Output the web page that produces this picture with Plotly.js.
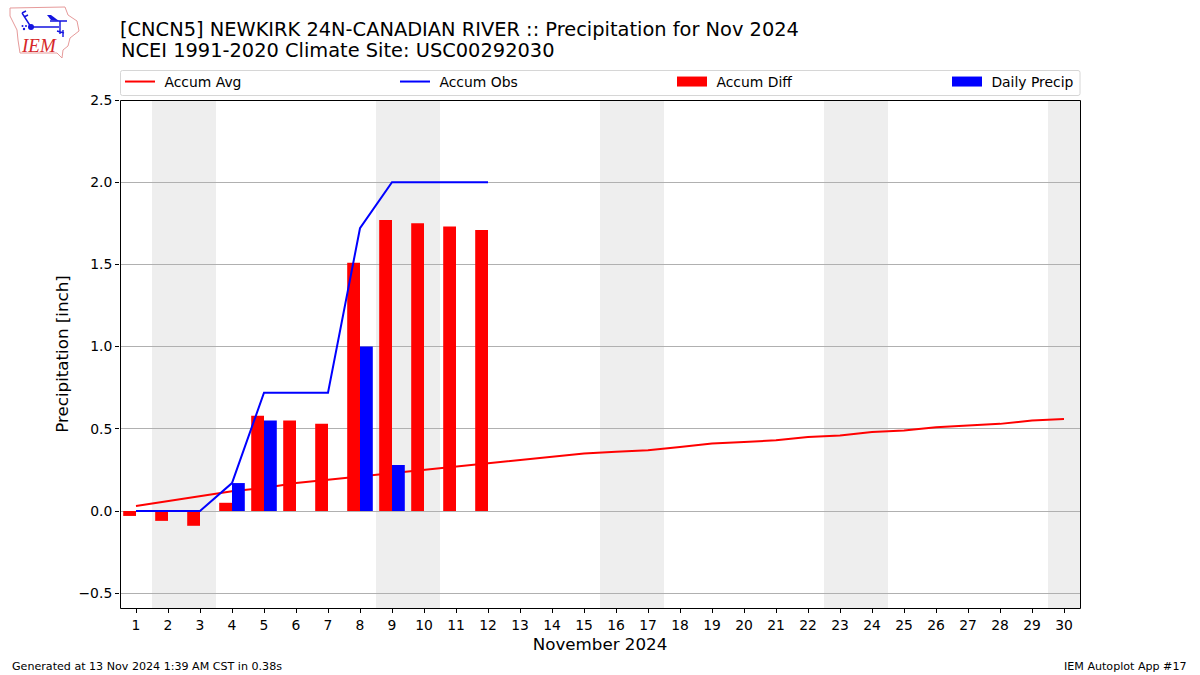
<!DOCTYPE html>
<html>
<head>
<meta charset="utf-8">
<script src="https://cdn.plot.ly/plotly-3.0.1.min.js"></script>
<style>
html, body { margin: 0; padding: 0; background: #fff; }
#plot { width: 1200px; height: 675px; }
</style>
</head>
<body>
<div id="plot"></div>
<script>
var days = [1,2,3,4,5,6,7,8,9,10,11,12,13,14,15,16,17,18,19,20,21,22,23,24,25,26,27,28,29,30];
var accumAvg = [0.03,0.06,0.09,0.12,0.14,0.17,0.19,0.21,0.23,0.25,0.27,0.29,0.31,0.33,0.35,0.36,0.37,0.39,0.41,0.42,0.43,0.45,0.46,0.48,0.49,0.51,0.52,0.53,0.55,0.56];
var obsDays = [1,2,3,4,5,6,7,8,9,10,11,12];
var accumObs = [0,0,0,0.17,0.72,0.72,0.72,1.72,2.0,2.0,2.0,2.0];
var accumDiff = [-0.03,-0.06,-0.09,0.05,0.58,0.55,0.53,1.51,1.77,1.75,1.73,1.71];
var dailyPrecip = [0,0,0,0.17,0.55,0,0,1.0,0.28,0,0,0];
var weekends = [[1.5,3.5],[8.5,10.5],[15.5,17.5],[22.5,24.5],[29.5,30.5]];

var fontName = '"DejaVu Sans", sans-serif';
var xRange = [0.5, 30.5];
var yRange = [-0.59, 2.5];

// pixel helpers for the things placed outside the plot area
function paperX(px) { return (px - 120) / 960; }
function paperY(py) { return (608 - py) / 508; }

// bars have to sit over the red line, plotly always puts bars under scatter
// on one subplot, so the bars and blue line go on an overlay pair of axes.
// the two empty line traces only give the wide legend swatches of the bars
var traces = [
    {x: days, y: accumAvg, name: '\u00a0Accum Avg', type: 'scatter', mode: 'lines',
     line: {color: '#ff0000', width: 2}, legend: 'legend'},
    {x: obsDays, y: accumDiff, type: 'bar', width: 0.4, offset: -0.4, showlegend: false,
     marker: {color: '#ff0000', line: {width: 0}}, xaxis: 'x2', yaxis: 'y2'},
    {x: obsDays, y: dailyPrecip, type: 'bar', width: 0.4, offset: 0, showlegend: false,
     marker: {color: '#0000ff', line: {width: 0}}, xaxis: 'x2', yaxis: 'y2'},
    {x: obsDays, y: accumObs, name: '\u00a0Accum Obs', type: 'scatter', mode: 'lines',
     line: {color: '#0000ff', width: 2}, xaxis: 'x2', yaxis: 'y2', legend: 'legend2'},
    {x: [null], y: [null], name: '\u00a0Accum Diff', type: 'scatter', mode: 'lines',
     line: {color: '#ff0000', width: 10}, legend: 'legend3'},
    {x: [null], y: [null], name: '\u00a0Daily Precip', type: 'scatter', mode: 'lines',
     line: {color: '#0000ff', width: 10}, legend: 'legend4'}
];

var shapes = weekends.map(function(w) {
    return {type: 'rect', xref: 'x', yref: 'paper', x0: w[0], x1: w[1], y0: 0, y1: 1,
            fillcolor: '#eeeeee', line: {width: 0}, layer: 'below'};
});

// plot frame, plotly's own axis line lands one pixel too far out
shapes.push({
    type: 'rect', xref: 'paper', yref: 'paper', layer: 'above',
    x0: paperX(120.5), x1: paperX(1080.5), y0: paperY(608.5), y1: paperY(100.5),
    line: {color: '#000', width: 1}
});

// legend frame, rounded like the reference
var lx0 = paperX(120.5), lx1 = paperX(1080), ly0 = paperY(95.5), ly1 = paperY(70.5);
var rx = 2 / 960, ry = 2 / 508;
shapes.push({
    type: 'path', xref: 'paper', yref: 'paper', layer: 'above',
    line: {color: '#d6d6d6', width: 1},
    path: 'M' + (lx0 + rx) + ',' + ly1 + ' L' + (lx1 - rx) + ',' + ly1 +
          ' Q' + lx1 + ',' + ly1 + ' ' + lx1 + ',' + (ly1 - ry) +
          ' L' + lx1 + ',' + (ly0 + ry) +
          ' Q' + lx1 + ',' + ly0 + ' ' + (lx1 - rx) + ',' + ly0 +
          ' L' + (lx0 + rx) + ',' + ly0 +
          ' Q' + lx0 + ',' + ly0 + ' ' + lx0 + ',' + (ly0 + ry) +
          ' L' + lx0 + ',' + (ly1 - ry) +
          ' Q' + lx0 + ',' + ly1 + ' ' + (lx0 + rx) + ',' + ly1 + ' Z'
});

var logoSvg = '<svg xmlns="http://www.w3.org/2000/svg" width="90" height="60" viewBox="0 0 90 60">' +
    '<path d="M10 8 L65 7 L68 15 L77 21 L79 31 L70 38 L68 46 L63 50 L62 58 L57 53 L20 53 L18 40 L17 30 L10 16 Z" fill="#fff" stroke="#e69a9a" stroke-width="1"/>' +
    '<path d="M31 27 L59 27 M50 21 L67 21 M60 21 L60 34 M31 27 L22 13 M22 13 L26 11 M24 17 L28 15 M57 31 L64 33 M63 30 L63 37" fill="none" stroke="#1414e0" stroke-width="1.4"/>' +
    '<path d="M47 15 L51 15 L59 21 L51 20 Z" fill="#1414e0"/>' +
    '<circle cx="31" cy="27" r="3" fill="#1414e0"/>' +
    '<circle cx="24" cy="29" r="1.200" fill="#1414e0"/><circle cx="22.500" cy="26" r="1" fill="#1414e0"/><circle cx="26" cy="26" r="1" fill="#1414e0"/>' +
    '</svg>';

var annotations = [
    {text: 'NCEI 1991-2020 Climate Site: USC00292030', xref: 'paper', yref: 'paper',
     x: 0, y: paperY(51), xanchor: 'left', yanchor: 'middle', showarrow: false, borderpad: 0,
     font: {family: fontName, size: 19.4, color: '#000'}},
    {text: '<i>IEM</i>', xref: 'paper', yref: 'paper', x: paperX(20), y: paperY(45.5),
     xanchor: 'left', yanchor: 'middle', showarrow: false, borderpad: 0,
     font: {family: '"Liberation Serif", serif', size: 19, color: '#d62728'}},
    {text: 'Generated at 13 Nov 2024 1:39 AM CST in 0.38s', xref: 'paper', yref: 'paper',
     x: paperX(11), y: paperY(666.5), xanchor: 'left', yanchor: 'middle',
     showarrow: false, borderpad: 0, font: {family: fontName, size: 11.1, color: '#000'}},
    {text: 'IEM Autoplot App #17', xref: 'paper', yref: 'paper',
     x: paperX(1188), y: paperY(666.5), xanchor: 'right', yanchor: 'middle',
     showarrow: false, borderpad: 0, font: {family: fontName, size: 11.1, color: '#000'}}
];

function legendAt(px) {
    return {
        orientation: 'h', x: paperX(px), xanchor: 'left', y: paperY(82), yanchor: 'middle',
        itemwidth: 30, borderwidth: 0, bgcolor: 'rgba(0,0,0,0)', font: {size: 13.9}
    };
}

var layout = {
    width: 1200,
    height: 675,
    margin: {l: 120, r: 120, t: 100, b: 67, pad: 0},
    paper_bgcolor: '#fff',
    plot_bgcolor: 'rgba(0,0,0,0)',
    font: {family: fontName, size: 14, color: '#000'},
    barmode: 'overlay',
    title: {
        text: '[CNCN5] NEWKIRK 24N-CANADIAN RIVER :: Precipitation for Nov 2024',
        x: 0.1, xanchor: 'left', y: 1 - 29 / 675, yanchor: 'middle', yref: 'container',
        font: {family: fontName, size: 19.4, color: '#000'}
    },
    xaxis: {
        range: xRange, tickmode: 'array', tickvals: days, ticktext: days.map(String),
        ticks: 'outside', ticklen: 4, tickwidth: 1, tickcolor: '#000',
        showline: false,
        showgrid: false, zeroline: false, tickfont: {size: 13.9},
        title: {text: 'November 2024', standoff: 6, font: {size: 16.7}}
    },
    yaxis: {
        range: yRange, tickmode: 'array', tickvals: [-0.5, 0, 0.5, 1, 1.5, 2, 2.5],
        tickformat: '.1f', ticks: 'outside', ticklen: 4, tickwidth: 1, tickcolor: '#000',
        showline: false,
        showgrid: true, gridcolor: '#b0b0b0', gridwidth: 1, zeroline: false,
        tickfont: {size: 13.9},
        title: {text: 'Precipitation [inch]', standoff: 5, font: {size: 16.7}}
    },
    xaxis2: {range: xRange, overlaying: 'x', visible: false, anchor: 'y2'},
    yaxis2: {range: yRange, overlaying: 'y', visible: false, anchor: 'x2'},
    legend: legendAt(120),
    legend2: legendAt(395),
    legend3: legendAt(672),
    legend4: legendAt(947),
    shapes: shapes,
    annotations: annotations,
    images: [{
        source: 'data:image/svg+xml;utf8,' + encodeURIComponent(logoSvg),
        xref: 'paper', yref: 'paper', x: paperX(0), y: paperY(0),
        sizex: 90 / 960, sizey: 60 / 508, xanchor: 'left', yanchor: 'top', layer: 'above'
    }]
};

Plotly.newPlot('plot', traces, layout, {displayModeBar: false});
</script>
</body>
</html>
